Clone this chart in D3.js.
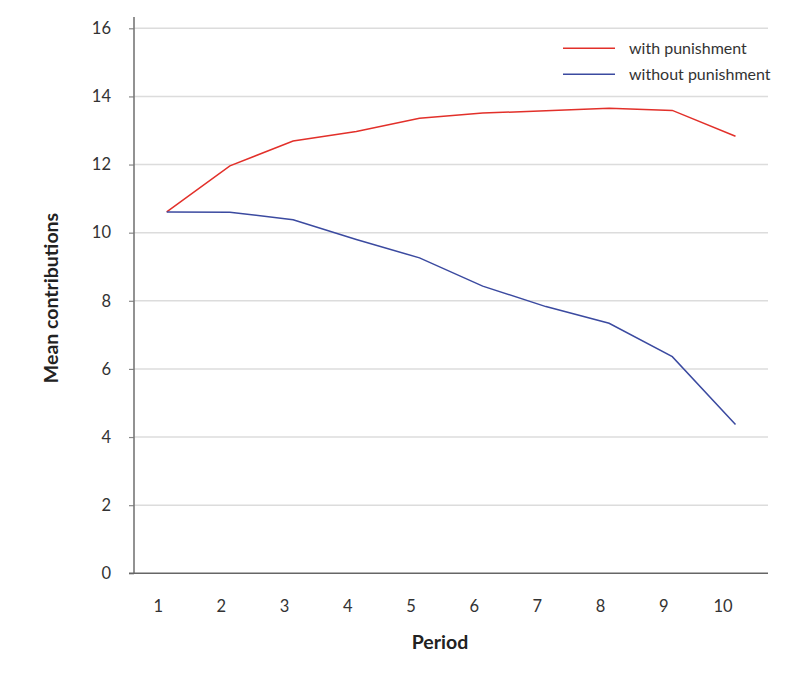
<!DOCTYPE html>
<html><head><meta charset="utf-8">
<script src="https://cdn.jsdelivr.net/npm/d3@7"></script>
<style>
body{margin:0;background:#fff;}
text{font-family:Lato,"Noto Sans",sans-serif;}
</style></head>
<body><svg id="c" width="810" height="675"></svg>
<script>
const periods = [1,2,3,4,5,6,7,8,9,10];
const withPunishment = [10.61,11.96,12.69,12.97,13.36,13.51,13.58,13.65,13.59,12.83];
const withoutPunishment = [10.61,10.60,10.38,9.80,9.26,8.43,7.83,7.34,6.36,4.37];
const yTicks = [0,2,4,6,8,10,12,14,16];
const seriesNames = ["with punishment","without punishment"];
const seriesColors = ["#e2302a","#3b4aa0"];

const svg = d3.select("#c");
const x = d3.scaleLinear().domain([1,10]).range([166.7,735.5]);
const y = d3.scaleLinear().domain([0,16]).range([573.3,28.3]);
const left = 134, right = 768;
const FONT = "Lato,'Noto Sans',sans-serif";

// gridlines
svg.append("g").selectAll("line").data(yTicks.filter(d=>d>0)).join("line")
  .attr("x1",left).attr("x2",right).attr("y1",d=>y(d)).attr("y2",d=>y(d))
  .attr("stroke","#dcdcdc").attr("stroke-width",1.5);

// y axis
const yAxis = svg.append("g").attr("transform",`translate(${left},0)`)
  .call(d3.axisLeft(y).tickValues(yTicks).tickSize(5).tickPadding(18));
yAxis.select(".domain").remove();
yAxis.selectAll(".tick line").attr("stroke","#888").attr("stroke-width",1.2);
yAxis.selectAll(".tick text").attr("font-size",16.5).attr("fill","#333")
  .style("font-family",FONT);
svg.append("line").attr("x1",left).attr("x2",left).attr("y1",17).attr("y2",y(0))
  .attr("stroke","#777").attr("stroke-width",1.6);

// x axis
const xAxis = svg.append("g").attr("transform",`translate(0,${y(0)})`)
  .call(d3.axisBottom(x).tickValues(periods).tickSize(0).tickPadding(27).tickFormat(d3.format("d")));
xAxis.select(".domain").remove();
xAxis.selectAll(".tick text").attr("font-size",16.5).attr("fill","#333")
  .attr("dx",d=>d===10?-13:-9)
  .style("font-family",FONT);
svg.append("line").attr("x1",left-5).attr("x2",right).attr("y1",y(0)).attr("y2",y(0))
  .attr("stroke","#666").attr("stroke-width",1.6);

// lines
const line = d3.line().x((d,i)=>x(periods[i])).y(d=>y(d));
[withPunishment, withoutPunishment].forEach((s,i)=>{
  svg.append("path").datum(s).attr("d",line).attr("fill","none")
    .attr("stroke",seriesColors[i]).attr("stroke-width",1.5);
});

// legend
seriesNames.forEach((n,i)=>{
  const ly = 48.3 + i*26;
  svg.append("line").attr("x1",563).attr("x2",615).attr("y1",ly).attr("y2",ly)
    .attr("stroke",seriesColors[i]).attr("stroke-width",1.5);
  svg.append("text").attr("x",629).attr("y",ly).attr("dy","0.35em")
    .attr("font-size",16).attr("fill","#333").text(n);
});

// axis titles
svg.append("text").attr("x",440).attr("y",649).attr("text-anchor","middle")
  .attr("font-size",19.5).attr("font-weight","bold").attr("fill","#222").text("Period");
svg.append("text").attr("transform","translate(58,298) rotate(-90)")
  .attr("text-anchor","middle").attr("font-size",19.5).attr("font-weight","bold")
  .attr("fill","#222").text("Mean contributions");
</script></body></html>
